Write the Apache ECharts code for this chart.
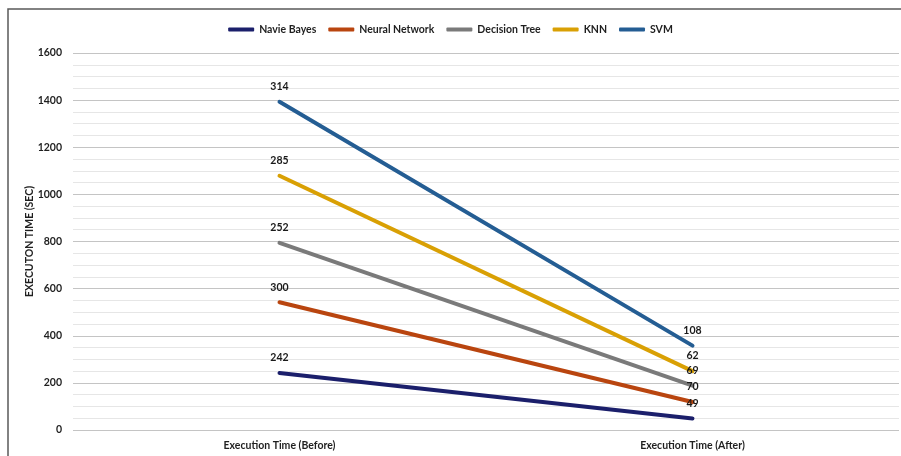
<!DOCTYPE html>
<html>
<head>
<meta charset="utf-8">
<script src="https://cdn.jsdelivr.net/npm/echarts@6/dist/echarts.min.js"></script>
<style>
    html, body { margin: 0; padding: 0; background: #fff; }
    #chart { width: 901px; height: 456px; }
</style>
</head>
<body>
<div id="chart"></div>
<script>
// 数据
const categories = ['Execution Time (Before)', 'Execution Time (After)'];
const seriesNames = ['Navie Bayes', 'Neural Network', 'Decision Tree', 'KNN', 'SVM'];
const naiveBayes = [242, 49];
const neuralNetwork = [300, 70];
const decisionTree = [252, 69];
const knn = [285, 62];
const svm = [314, 108];
const colors = ['#1b1f6b', '#b9450f', '#7a7a7a', '#d9a004', '#245d93'];

const font = 'Lato, "Liberation Sans", sans-serif';
const seriesData = [naiveBayes, neuralNetwork, decisionTree, knn, svm];

const chart = echarts.init(document.getElementById('chart'));

const option = {
    animation: false,
    color: colors,
    textStyle: { fontFamily: font },
    graphic: [{
        type: 'rect',
        shape: { x: 8, y: 9, width: 900, height: 460 },
        style: { fill: 'none', stroke: '#595959', lineWidth: 1.5 },
        silent: true
    }],
    legend: {
        top: 19,
        left: 'center',
        itemWidth: 26,
        itemHeight: 4,
        itemGap: 12,
        icon: 'roundRect',
        data: seriesNames,
        textStyle: { fontFamily: font, fontSize: 10.5, fontWeight: 'bold', color: '#1f1f1f' }
    },
    grid: { left: 73, right: 2, top: 53, bottom: 26 },
    xAxis: {
        type: 'category',
        data: categories,
        axisTick: { show: false },
        axisLine: { show: false },
        axisLabel: { margin: 10, fontFamily: font, fontSize: 10.5, fontWeight: 'bold', color: '#1f1f1f' }
    },
    yAxis: {
        type: 'value',
        min: 0,
        max: 1600,
        interval: 200,
        name: 'EXECUTON TIME (SEC)',
        nameLocation: 'middle',
        nameGap: 38,
        nameMoveOverlap: false,
        nameTextStyle: { fontFamily: font, fontSize: 10.5, fontWeight: 'bold', color: '#1f1f1f' },
        axisLine: { show: false },
        axisTick: { show: false },
        axisLabel: {
            margin: 11,
            fontFamily: font,
            fontSize: 10.5,
            fontWeight: 'bold',
            color: '#1f1f1f',
            formatter: (v) => String(v)
        },
        splitLine: { lineStyle: { color: '#c4c4c4', width: 1 } },
        minorTick: { show: false, splitNumber: 4 },
        minorSplitLine: { show: true, lineStyle: { color: '#e6e6e6', width: 1 } }
    },
    series: seriesNames.map((name, i) => ({
        name: name,
        type: 'line',
        stack: 'total',
        data: seriesData[i],
        symbol: 'circle',
        symbolSize: 1,
        lineStyle: { width: 4, color: colors[i], cap: 'round' },
        itemStyle: { color: colors[i] },
        label: {
            show: true,
            position: 'top',
            distance: 9,
            fontFamily: font,
            fontSize: 10.5,
            fontWeight: 'bold',
            color: '#1a1a1a'
        }
    }))
};

chart.setOption(option);
</script>
</body>
</html>
